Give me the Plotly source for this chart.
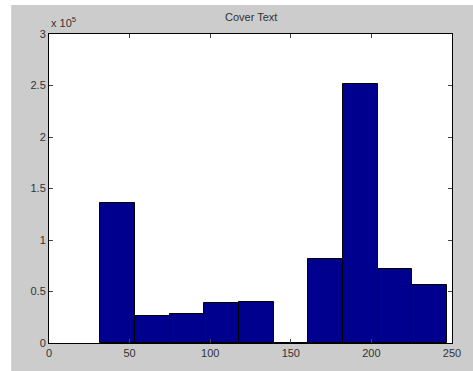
import plotly.graph_objects as go

# Histogram bins (MATLAB hist, 10 bins)
bin_centers = [42.65, 64.15, 85.65, 107.15, 128.65, 150.15, 171.65, 193.15, 214.65, 236.15]
counts = [136000, 26000, 28000, 38500, 40000, 0, 82000, 251000, 71500, 56500]
bin_width = 21.5

x_ticks = [0, 50, 100, 150, 200, 250]
y_ticks = [0, 50000, 100000, 150000, 200000, 250000, 300000]
y_tick_labels = ["0", "0.5", "1", "1.5", "2", "2.5", "3"]
title_text = "Cover Text"

W, H = 473, 371
L, R, T, B = 49, 19, 34, 28
pw, ph = W - L - R, H - T - B

fig = go.Figure()
fig.add_trace(go.Bar(
    x=bin_centers, y=counts, width=[bin_width] * len(counts),
    marker=dict(color="rgb(0,0,143)", line=dict(color="black", width=1)),
    showlegend=False, hoverinfo="skip",
))

font = dict(family="Liberation Sans, Arial, Helvetica, sans-serif", size=11, color="#333")

fig.update_layout(
    width=W, height=H,
    margin=dict(l=L, r=R, t=T, b=B, pad=0),
    paper_bgcolor="rgb(204,204,204)",
    plot_bgcolor="white",
    font=font,
    bargap=0,
    xaxis=dict(range=[0, 250], tickvals=x_ticks, ticks="inside", ticklen=4,
               tickcolor="#444", showline=True, linecolor="black", linewidth=1,
               mirror="ticks", showgrid=False, zeroline=False, tickfont=font,
               fixedrange=True),
    yaxis=dict(range=[0, 300000], tickvals=y_ticks, ticktext=y_tick_labels,
               ticks="inside", ticklen=4, tickcolor="#444", showline=True,
               linecolor="black", linewidth=1, mirror="ticks", showgrid=False,
               zeroline=False, tickfont=font, fixedrange=True),
    shapes=[
        dict(type="rect", xref="paper", yref="paper",
             x0=-L / pw - 0.01, x1=(11 - L) / pw, y0=-B / ph - 0.01, y1=1 + T / ph + 0.01,
             fillcolor="white", line=dict(width=0), layer="below"),
        dict(type="rect", xref="paper", yref="paper",
             x0=-L / pw - 0.01, x1=1 + R / pw + 0.01, y0=1 + (T - 5) / ph, y1=1 + T / ph + 0.01,
             fillcolor="white", line=dict(width=0), layer="below"),
    ],
    annotations=[
        dict(text=title_text, xref="paper", yref="paper", x=0.5, y=1 + (T - 17) / ph,
             xanchor="center", yanchor="middle", showarrow=False, font=font),
        dict(text="x 10<sup>5</sup>", xref="paper", yref="paper", x=0, y=1 + (T - 22) / ph,
             xanchor="left", yanchor="middle", showarrow=False, font=font),
    ],
)

fig.write_html("out.html", config={"displayModeBar": False},
               post_script="document.body.style.margin='0';document.body.style.overflow='hidden';")
